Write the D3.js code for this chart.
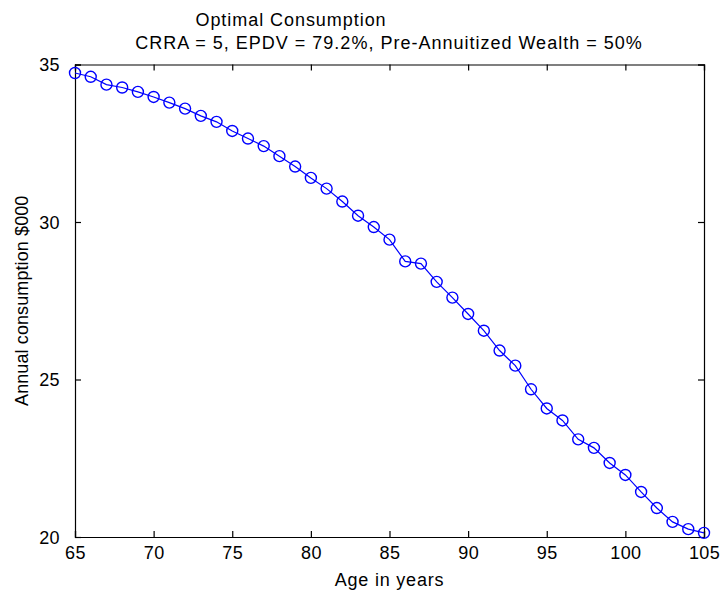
<!DOCTYPE html>
<html>
<head>
<meta charset="utf-8">
<script src="https://cdn.jsdelivr.net/npm/d3@7.9.0/dist/d3.min.js"></script>
<style>
  html, body { margin: 0; padding: 0; background: #fff; }
  svg text { font-family: "Liberation Sans", Arial, sans-serif; fill: #000; }
</style>
</head>
<body>
<div id="chart"></div>
<script>
// Data
const ages = [65, 66, 67, 68, 69, 70, 71, 72, 73, 74, 75, 76, 77, 78, 79, 80, 81, 82, 83, 84, 85,
  86, 87, 88, 89, 90, 91, 92, 93, 94, 95, 96, 97, 98, 99, 100, 101, 102, 103, 104, 105];
const consumption = [34.73, 34.61, 34.36, 34.27, 34.13, 33.97, 33.79, 33.60, 33.37, 33.18, 32.89,
  32.65, 32.41, 32.09, 31.76, 31.40, 31.06, 30.65, 30.20, 29.84, 29.44,
  28.75, 28.68, 28.10, 27.60, 27.08, 26.55, 25.92, 25.44, 24.69, 24.08,
  23.70, 23.10, 22.83, 22.35, 21.97, 21.43, 20.92, 20.48, 20.25, 20.13];
const xTicks = [65, 70, 75, 80, 85, 90, 95, 100, 105];
const yTicks = [20, 25, 30, 35];
const titleLines = ['Optimal Consumption', 'CRRA = 5, EPDV = 79.2%, Pre-Annuitized Wealth = 50%'];
const xLabel = 'Age in years';
const yLabel = 'Annual consumption $000';

function renderChart() {
  const width = 723;
  const height = 597;
  const margin = { top: 64.5, right: 19, bottom: 60, left: 75 };

  const usableArea = {
    top: margin.top,
    right: width - margin.right,
    bottom: height - margin.bottom,
    left: margin.left,
  };

  const svg = d3.select('#chart')
    .append('svg')
    .attr('width', width)
    .attr('height', height);

  const xScale = d3.scaleLinear()
    .domain([65, 105])
    .range([usableArea.left, usableArea.right]);

  const yScale = d3.scaleLinear()
    .domain([20, 35])
    .range([usableArea.bottom, usableArea.top]);

  const tickLen = 6;

  // Axes on all four sides, ticks pointing inward (matlab box style)
  const bottomAxis = svg.append('g')
    .attr('transform', `translate(0, ${usableArea.bottom})`)
    .call(d3.axisBottom(xScale).tickValues(xTicks).tickSize(-tickLen).tickPadding(tickLen + 3).tickFormat(d3.format('d')));

  const topAxis = svg.append('g')
    .attr('transform', `translate(0, ${usableArea.top})`)
    .call(d3.axisTop(xScale).tickValues(xTicks).tickSize(-tickLen).tickFormat(''));

  const leftAxis = svg.append('g')
    .attr('transform', `translate(${usableArea.left}, 0)`)
    .call(d3.axisLeft(yScale).tickValues(yTicks).tickSize(-tickLen).tickPadding(tickLen + 9).tickFormat(d3.format('d')));

  const rightAxis = svg.append('g')
    .attr('transform', `translate(${usableArea.right}, 0)`)
    .call(d3.axisRight(yScale).tickValues(yTicks).tickSize(-tickLen).tickFormat(''));

  [bottomAxis, topAxis, leftAxis, rightAxis].forEach(g => {
    g.select('.domain').attr('stroke', '#000').attr('stroke-width', 1.2);
    g.selectAll('.tick line').attr('stroke', '#000').attr('stroke-width', 1.2);
    g.selectAll('.tick text')
      .style('font-family', '"Liberation Sans", Arial, sans-serif')
      .style('font-size', '18px')
      .style('letter-spacing', '0.4px')
      .attr('fill', '#000');
  });
  leftAxis.selectAll('.tick text').attr('dy', '0.35em');

  // Line and circle markers
  const points = ages.map((a, i) => ({ age: a, value: consumption[i] }));

  const line = d3.line()
    .x(d => xScale(d.age))
    .y(d => yScale(d.value));

  svg.append('path')
    .datum(points)
    .attr('fill', 'none')
    .attr('stroke', '#0000ff')
    .attr('stroke-width', 1.2)
    .attr('d', line);

  svg.append('g')
    .attr('class', 'dots')
    .selectAll('circle')
    .data(points)
    .join('circle')
    .attr('cx', d => xScale(d.age))
    .attr('cy', d => yScale(d.value))
    .attr('r', 5.5)
    .attr('fill', 'none')
    .attr('stroke', '#0000ff')
    .attr('stroke-width', 1.4);

  // Titles and axis labels
  svg.append('text')
    .attr('x', 291)
    .attr('y', 26)
    .attr('text-anchor', 'middle')
    .style('font-size', '18px')
    .style('letter-spacing', '0.95px')
    .text(titleLines[0]);

  svg.append('text')
    .attr('x', 389)
    .attr('y', 49)
    .attr('text-anchor', 'middle')
    .style('font-size', '18px')
    .style('letter-spacing', '1px')
    .text(titleLines[1]);

  svg.append('text')
    .attr('x', (usableArea.left + usableArea.right) / 2)
    .attr('y', 586)
    .attr('text-anchor', 'middle')
    .style('font-size', '18px')
    .style('letter-spacing', '0.8px')
    .text(xLabel);

  svg.append('text')
    .attr('transform', `translate(28, ${(usableArea.top + usableArea.bottom) / 2}) rotate(-90)`)
    .attr('text-anchor', 'middle')
    .style('font-size', '18px')
    .style('letter-spacing', '0.1px')
    .text(yLabel);
}

document.addEventListener('DOMContentLoaded', renderChart);
</script>
</body>
</html>
